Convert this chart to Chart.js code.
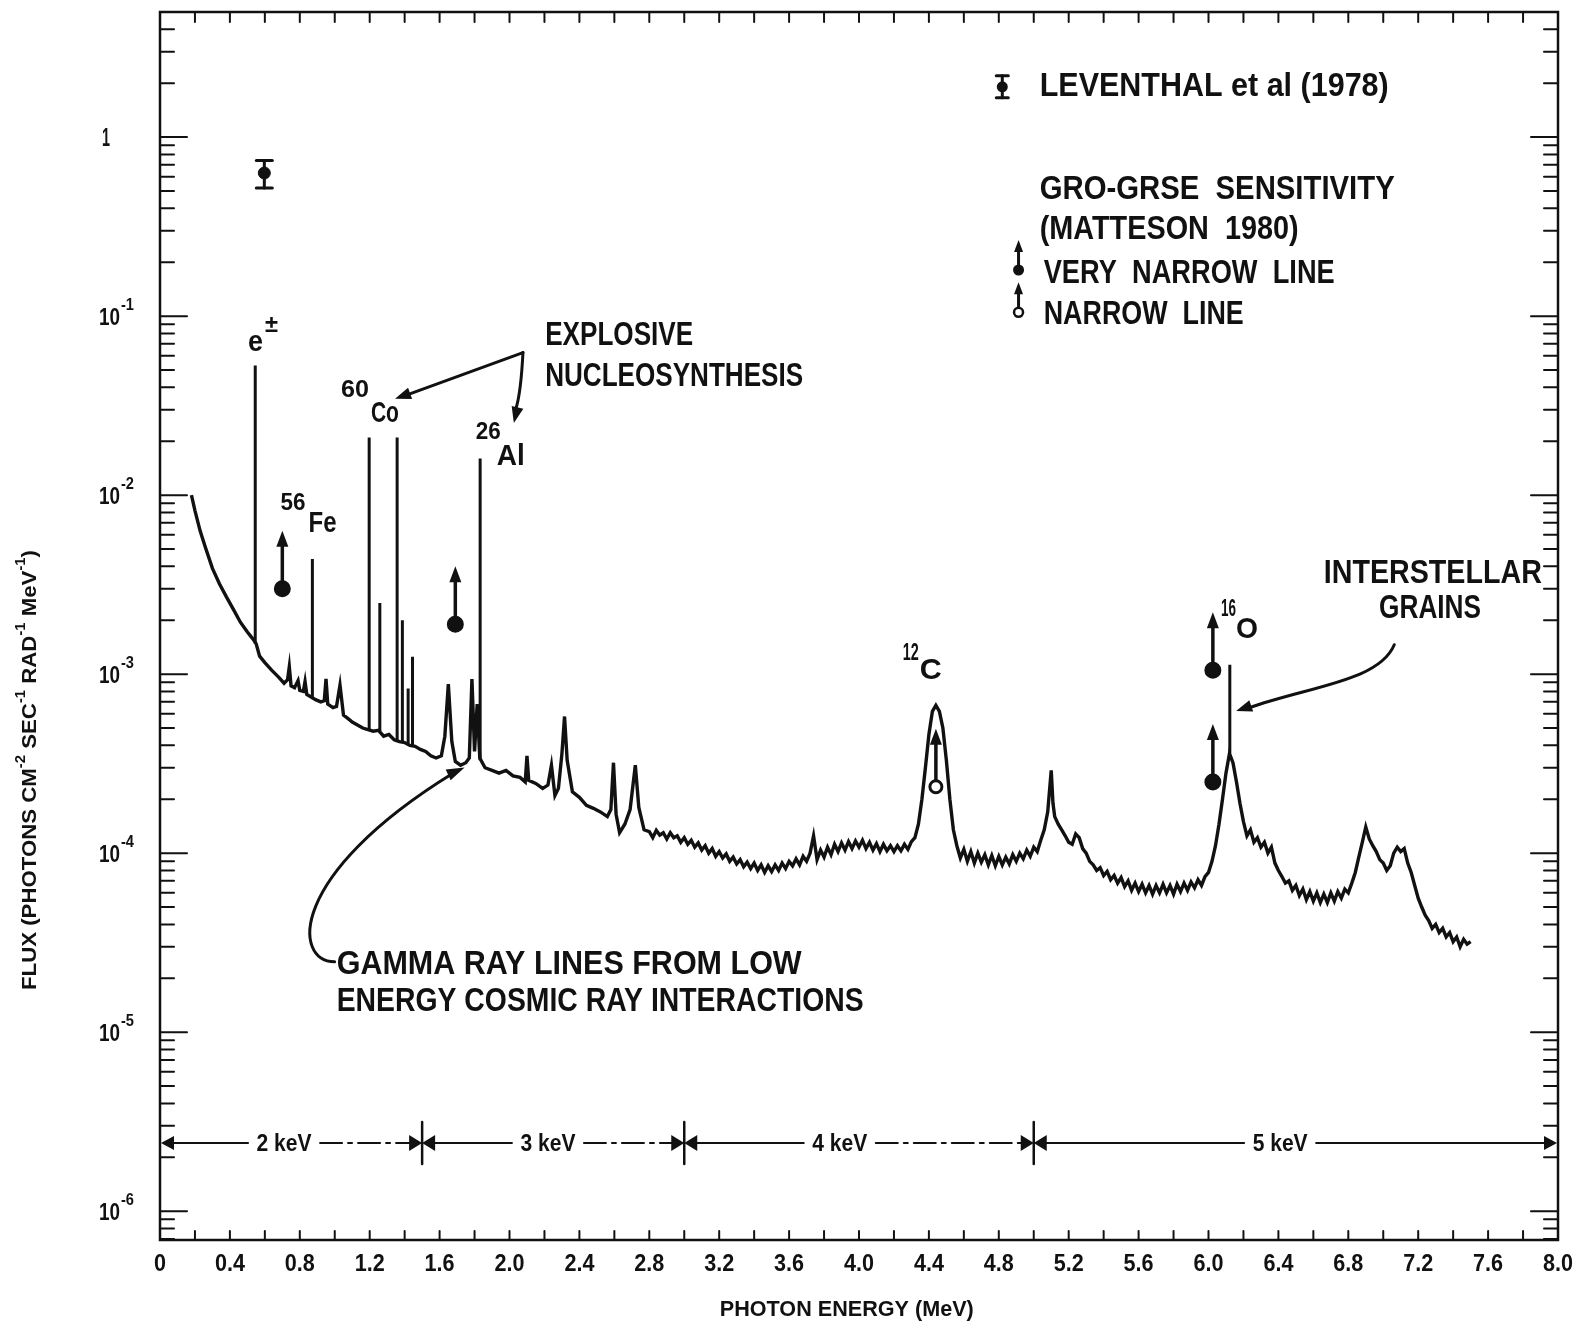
<!DOCTYPE html>
<html>
<head>
<meta charset="utf-8">
<title>Gamma ray line spectrum</title>
<script src="https://cdn.jsdelivr.net/npm/chart.js@4.4.0/dist/chart.umd.min.js"></script>
<style>
html, body { margin: 0; padding: 0; background: #fff; }
#wrap { width: 1578px; height: 1325px; }
</style>
</head>
<body>
<div id="wrap"><canvas id="spectrum" width="1578" height="1325"></canvas></div>
<script>
// continuum spectrum (MeV, photons cm-2 s-1 rad-1 MeV-1)
const energy = [
    0.18, 0.20, 0.23, 0.26, 0.30, 0.34, 0.38, 0.42, 0.46, 0.50, 0.53, 0.55, 0.57, 0.60, 0.64, 0.68,
    0.71, 0.73, 0.74, 0.75, 0.77, 0.79, 0.80, 0.82, 0.83, 0.84, 0.86, 0.89, 0.92, 0.94, 0.95, 0.96,
    0.99, 1.01, 1.03, 1.05, 1.08, 1.10, 1.13, 1.16, 1.19, 1.22, 1.25, 1.28, 1.31, 1.34, 1.37, 1.40,
    1.43, 1.46, 1.49, 1.52, 1.55, 1.58, 1.61, 1.63, 1.65, 1.67, 1.69, 1.72, 1.75, 1.77, 1.785, 1.80,
    1.815, 1.83, 1.86, 1.90, 1.94, 1.98, 2.02, 2.06, 2.09, 2.10, 2.11, 2.15, 2.19, 2.22, 2.24, 2.26,
    2.28, 2.30, 2.315, 2.33, 2.36, 2.40, 2.44, 2.48, 2.52, 2.56, 2.58, 2.595, 2.61, 2.63, 2.66, 2.69,
    2.72, 2.74, 2.77, 2.80, 2.82, 2.84, 2.86, 2.88, 2.90, 2.92, 2.94, 2.96, 2.98, 3.00, 3.02, 3.04,
    3.06, 3.08, 3.10, 3.12, 3.14, 3.16, 3.18, 3.20, 3.22, 3.24, 3.26, 3.28, 3.30, 3.32, 3.34, 3.36,
    3.38, 3.40, 3.42, 3.44, 3.46, 3.48, 3.50, 3.52, 3.54, 3.56, 3.58, 3.60, 3.62, 3.64, 3.66, 3.68,
    3.70, 3.72, 3.74, 3.76, 3.78, 3.80, 3.82, 3.84, 3.86, 3.88, 3.90, 3.92, 3.94, 3.96, 3.98, 4.00,
    4.02, 4.04, 4.06, 4.08, 4.10, 4.12, 4.14, 4.16, 4.18, 4.20, 4.22, 4.24, 4.26, 4.28, 4.30, 4.32,
    4.34, 4.36, 4.38, 4.40, 4.42, 4.44, 4.46, 4.48, 4.50, 4.52, 4.54, 4.56, 4.58, 4.60, 4.62, 4.64,
    4.66, 4.68, 4.70, 4.72, 4.74, 4.76, 4.78, 4.80, 4.82, 4.84, 4.86, 4.88, 4.90, 4.92, 4.94, 4.96,
    4.98, 5.00, 5.02, 5.04, 5.06, 5.08, 5.10, 5.11, 5.12, 5.14, 5.16, 5.18, 5.20, 5.22, 5.24, 5.26,
    5.28, 5.30, 5.32, 5.34, 5.36, 5.38, 5.40, 5.42, 5.44, 5.46, 5.48, 5.50, 5.52, 5.54, 5.56, 5.58,
    5.60, 5.62, 5.64, 5.66, 5.68, 5.70, 5.72, 5.74, 5.76, 5.78, 5.80, 5.82, 5.84, 5.86, 5.88, 5.90,
    5.92, 5.94, 5.96, 5.98, 6.00, 6.02, 6.04, 6.06, 6.08, 6.10, 6.12, 6.14, 6.16, 6.18, 6.20, 6.22,
    6.24, 6.26, 6.28, 6.30, 6.32, 6.34, 6.36, 6.38, 6.40, 6.42, 6.44, 6.46, 6.48, 6.50, 6.52, 6.54,
    6.56, 6.58, 6.60, 6.62, 6.64, 6.66, 6.68, 6.70, 6.72, 6.74, 6.76, 6.78, 6.80, 6.82, 6.84, 6.86,
    6.88, 6.90, 6.92, 6.94, 6.96, 6.98, 7.00, 7.02, 7.04, 7.06, 7.08, 7.10, 7.12, 7.14, 7.16, 7.18,
    7.20, 7.22, 7.24, 7.26, 7.28, 7.30, 7.32, 7.34, 7.36, 7.38, 7.40, 7.42, 7.44, 7.46, 7.48, 7.50
];
const flux = [
    1.0e-2, 8.2e-3, 6.3e-3, 5.1e-3, 3.9e-3, 3.2e-3, 2.7e-3, 2.3e-3, 1.95e-3, 1.72e-3, 1.58e-3, 1.48e-3, 1.26e-3, 1.16e-3, 1.05e-3, 9.6e-4,
    8.9e-4, 9.3e-4, 1.1e-3, 8.6e-4, 8.4e-4, 9.2e-4, 8.1e-4, 8.0e-4, 9.1e-4, 7.7e-4, 7.5e-4, 7.2e-4, 7.0e-4, 7.1e-4, 9.4e-4, 6.8e-4,
    6.5e-4, 6.6e-4, 8.7e-4, 5.9e-4, 5.6e-4, 5.4e-4, 5.2e-4, 5.0e-4, 4.9e-4, 4.8e-4, 4.85e-4, 4.5e-4, 4.6e-4, 4.3e-4, 4.2e-4, 4.15e-4,
    4.0e-4, 3.95e-4, 3.8e-4, 3.7e-4, 3.5e-4, 3.4e-4, 3.5e-4, 4.5e-4, 8.8e-4, 4.2e-4, 3.25e-4, 3.1e-4, 3.2e-4, 3.4e-4, 9.4e-4, 3.7e-4,
    6.8e-4, 3.4e-4, 3.0e-4, 2.9e-4, 2.8e-4, 2.9e-4, 2.7e-4, 2.65e-4, 2.5e-4, 3.5e-4, 2.55e-4, 2.45e-4, 2.3e-4, 2.4e-4, 3.1e-4, 2.1e-4,
    2.3e-4, 3.6e-4, 5.8e-4, 3.3e-4, 2.2e-4, 2.05e-4, 1.85e-4, 1.78e-4, 1.7e-4, 1.6e-4, 1.75e-4, 3.2e-4, 1.65e-4, 1.3e-4, 1.45e-4, 1.75e-4,
    3.1e-4, 1.8e-4, 1.35e-4, 1.32e-4, 1.22e-4, 1.34e-4, 1.26e-4, 1.3e-4, 1.2e-4, 1.3e-4, 1.22e-4, 1.25e-4, 1.15e-4, 1.22e-4, 1.12e-4, 1.18e-4,
    1.08e-4, 1.14e-4, 1.04e-4, 1.1e-4, 1.0e-4, 1.06e-4, 9.6e-5, 1.02e-4, 9.4e-5, 9.9e-5, 9.0e-5, 9.5e-5, 8.7e-5, 9.2e-5, 8.4e-5, 8.9e-5,
    8.2e-5, 8.8e-5, 8.0e-5, 8.6e-5, 7.8e-5, 8.5e-5, 7.9e-5, 8.6e-5, 8.0e-5, 8.8e-5, 8.2e-5, 9.0e-5, 8.5e-5, 9.3e-5, 8.6e-5, 9.6e-5,
    9.0e-5, 1.0e-4, 1.25e-4, 9.2e-5, 1.04e-4, 9.5e-5, 1.08e-4, 9.8e-5, 1.12e-4, 1.02e-4, 1.14e-4, 1.04e-4, 1.16e-4, 1.06e-4, 1.17e-4, 1.08e-4,
    1.18e-4, 1.06e-4, 1.15e-4, 1.04e-4, 1.13e-4, 1.02e-4, 1.12e-4, 1.03e-4, 1.1e-4, 1.02e-4, 1.1e-4, 1.03e-4, 1.12e-4, 1.05e-4, 1.16e-4, 1.22e-4,
    1.45e-4, 2.0e-4, 3.0e-4, 4.6e-4, 6.2e-4, 6.7e-4, 6.2e-4, 5.0e-4, 3.3e-4, 2.0e-4, 1.35e-4, 1.1e-4, 9.4e-5, 1.05e-4, 9.0e-5, 1.02e-4,
    8.8e-5, 1.0e-4, 8.9e-5, 9.8e-5, 8.6e-5, 9.7e-5, 8.5e-5, 9.6e-5, 8.6e-5, 9.5e-5, 8.7e-5, 9.8e-5, 9.0e-5, 1.0e-4, 9.3e-5, 1.04e-4,
    9.6e-5, 1.08e-4, 1.02e-4, 1.18e-4, 1.35e-4, 1.7e-4, 2.9e-4, 1.9e-4, 1.6e-4, 1.45e-4, 1.35e-4, 1.25e-4, 1.15e-4, 1.12e-4, 1.28e-4, 1.22e-4,
    1.06e-4, 1.0e-4, 9.0e-5, 8.6e-5, 8.0e-5, 8.3e-5, 7.5e-5, 7.9e-5, 7.1e-5, 7.5e-5, 6.8e-5, 7.3e-5, 6.5e-5, 7.0e-5, 6.2e-5, 6.8e-5,
    6.1e-5, 6.7e-5, 6.0e-5, 6.6e-5, 5.9e-5, 6.6e-5, 6.0e-5, 6.7e-5, 6.0e-5, 6.6e-5, 5.9e-5, 6.7e-5, 6.1e-5, 6.8e-5, 6.2e-5, 6.9e-5,
    6.4e-5, 7.1e-5, 6.6e-5, 7.4e-5, 7.8e-5, 9.0e-5, 1.1e-4, 1.45e-4, 2.0e-4, 2.8e-4, 3.6e-4, 3.2e-4, 2.5e-4, 1.9e-4, 1.5e-4, 1.25e-4,
    1.35e-4, 1.15e-4, 1.22e-4, 1.08e-4, 1.15e-4, 1.0e-4, 1.08e-4, 8.8e-5, 8.0e-5, 7.4e-5, 6.8e-5, 7.0e-5, 6.2e-5, 6.6e-5, 5.8e-5, 6.3e-5,
    5.5e-5, 6.1e-5, 5.4e-5, 6.0e-5, 5.3e-5, 5.9e-5, 5.3e-5, 6.0e-5, 5.4e-5, 6.1e-5, 5.6e-5, 6.3e-5, 6.0e-5, 6.8e-5, 7.8e-5, 9.5e-5,
    1.15e-4, 1.4e-4, 1.2e-4, 1.1e-4, 1.02e-4, 9.2e-5, 8.8e-5, 8.0e-5, 8.5e-5, 1.0e-4, 1.08e-4, 1.02e-4, 1.06e-4, 8.8e-5, 7.8e-5, 6.6e-5,
    5.6e-5, 5.0e-5, 4.5e-5, 4.2e-5, 3.8e-5, 4.0e-5, 3.6e-5, 3.8e-5, 3.4e-5, 3.6e-5, 3.2e-5, 3.4e-5, 3.0e-5, 3.3e-5, 3.1e-5, 3.2e-5
];

// narrow lines drawn as spikes above the continuum
const lineEnergy = [0.545, 0.872, 1.197, 1.258, 1.357, 1.387, 1.42, 1.445, 1.832, 6.122];
const lineBase = [1.48e-3, 7.4e-4, 4.9e-4, 4.8e-4, 4.25e-4, 4.15e-4, 4.0e-4, 3.95e-4, 3.3e-4, 3.6e-4];
const lineTop = [5.3e-2, 4.4e-3, 2.1e-2, 2.5e-3, 2.1e-2, 2.0e-3, 8.3e-4, 1.25e-3, 1.6e-2, 1.13e-3];

// GRO-GRSE sensitivity (Matteson 1980)
const sensEnergy = [0.70, 1.69, 4.44, 6.025, 6.025];
const sensFlux = [3.0e-3, 1.9e-3, 2.35e-4, 1.05e-3, 2.5e-4];
const sensFilled = [true, true, false, true, true];

// Leventhal et al (1978)
const levEnergy = [0.597];
const levFlux = [0.63];
const levLow = [0.52];
const levHigh = [0.74];

// detector resolution bands
const resEdges = [0, 1.5, 3.0, 5.0, 8.0];
const resLabels = ["2 keV", "3 keV", "4 keV", "5 keV"];
const resLabelAt = [0.71, 2.22, 3.89, 6.41];
const resFlux = 2.4e-6;

const FONT = "'Liberation Sans Narrow', 'Liberation Sans', 'DejaVu Sans', sans-serif";
const INK = "#111";

// draws text squeezed/stretched to a given width
function fitText(c, s, x, y, size, w, align) {
    c.font = "bold " + size + "px " + FONT;
    const nat = c.measureText(s).width;
    c.save();
    c.translate(x, y);
    c.scale(w / nat, 1);
    c.textBaseline = "middle";
    c.textAlign = "left";
    let ox = 0;
    if (align == "center") ox = -nat / 2;
    else if (align == "right") ox = -nat;
    c.fillText(s, ox, 0);
    c.restore();
}

function seg(c, x1, y1, x2, y2) {
    c.beginPath();
    c.moveTo(x1, y1);
    c.lineTo(x2, y2);
    c.stroke();
}

function head(c, x1, y1, x2, y2, len, half) {
    const a = Math.atan2(y2 - y1, x2 - x1);
    const bx = x2 - len * Math.cos(a), by = y2 - len * Math.sin(a);
    c.beginPath();
    c.moveTo(x2, y2);
    c.lineTo(bx + half * Math.sin(a), by - half * Math.cos(a));
    c.lineTo(bx - half * Math.sin(a), by + half * Math.cos(a));
    c.closePath();
    c.fill();
}

// arrow pointing up from a marker circle
function upArrow(c, x, y, r, len) {
    c.lineWidth = 3.5;
    seg(c, x, y - r, x, y - len + 10);
    head(c, x, y, x, y - len, 16, 6);
}

const decor = {
    id: "decor",
    afterDraw(chart) {
        const c = chart.ctx, xs = chart.scales.x, ys = chart.scales.y, a = chart.chartArea;
        const P = (e, f) => [xs.getPixelForValue(e), ys.getPixelForValue(f)];
        c.save();
        c.strokeStyle = INK;
        c.fillStyle = INK;
        c.lineCap = "round";

        // frame and inward ticks
        c.lineWidth = 2.5;
        c.strokeRect(a.left, a.top, a.right - a.left, a.bottom - a.top);
        c.lineWidth = 2;
        for (let i = 0; i <= 40; i++) {
            const px = xs.getPixelForValue(i * 0.2);
            seg(c, px, a.top, px, a.top + 10);
            seg(c, px, a.bottom, px, a.bottom - 9);
        }
        for (let d = -7; d <= 0; d++) {
            for (let m = 1; m <= 9; m++) {
                const v = m * Math.pow(10, d);
                if (v < ys.min || v >= ys.max) continue;
                const py = ys.getPixelForValue(v);
                const L = m == 1 ? 27 : 14;
                seg(c, a.left, py, a.left + L, py);
                seg(c, a.right, py, a.right - L, py);
            }
        }

        // tick labels
        xs.ticks.forEach((t) => {
            const s = t.value == 0 ? "0" : t.value.toFixed(1);
            fitText(c, s, xs.getPixelForValue(t.value), a.bottom + 24, 24, s.length == 1 ? 12 : 30, "center");
        });
        for (let d = -6; d <= 0; d++) {
            const py = ys.getPixelForValue(Math.pow(10, d));
            if (d == 0) {
                fitText(c, "1", 106, py + 2, 26, 8, "center");
            } else {
                fitText(c, "10", 99, py + 2, 24, 21, "left");
                fitText(c, "-" + -d, 121, py - 11, 17, 13, "left");
            }
        }

        // axis titles
        fitText(c, "PHOTON ENERGY (MeV)", xs.getPixelForValue(3.93), a.bottom + 70, 22, 254, "center");
        c.save();
        c.translate(30, 770);
        c.rotate(-Math.PI / 2);
        const parts = [["FLUX (PHOTONS CM", 0], ["-2", 1], [" SEC", 0], ["-1", 1], [" RAD", 0], ["-1", 1], [" MeV", 0], ["-1", 1], [")", 0]];
        let total = 0;
        parts.forEach((p) => {
            c.font = "bold " + (p[1] ? 14 : 21) + "px " + FONT;
            total += c.measureText(p[0]).width;
        });
        c.scale(440 / total, 1);
        c.textBaseline = "middle";
        let cx = -total / 2;
        parts.forEach((p) => {
            c.font = "bold " + (p[1] ? 14 : 21) + "px " + FONT;
            c.fillText(p[0], cx, p[1] ? -9 : 0);
            cx += c.measureText(p[0]).width;
        });
        c.restore();

        // Leventhal error bar
        const lev = chart.getDatasetMeta(3).data;
        c.lineWidth = 3;
        lev.forEach((pt, i) => {
            const yl = ys.getPixelForValue(levLow[i]), yh = ys.getPixelForValue(levHigh[i]);
            seg(c, pt.x, yl, pt.x, yh);
            seg(c, pt.x - 8, yl, pt.x + 8, yl);
            seg(c, pt.x - 8, yh, pt.x + 8, yh);
        });

        // sensitivity arrows
        chart.getDatasetMeta(2).data.forEach((pt) => upArrow(c, pt.x, pt.y, 7, 58));

        // isotope labels
        const iso = (sup, main, e, f, dx, dy, ws, wm) => {
            const [x, y] = P(e, f);
            fitText(c, main, x, y, 30, wm, "left");
            fitText(c, sup, x + dx, y + dy, 23, ws, "left");
        };
        iso("\u00b1", "e", 0.504, 0.0712, 17, -17, 13, 15);
        iso("56", "Fe", 0.850, 6.9e-3, -28, -20, 25, 28);
        iso("60", "Co", 1.207, 0.0284, -30, -23, 28, 28);
        iso("26", "Al", 1.927, 0.0163, -21, -24, 25, 28);
        iso("12", "C", 4.348, 1.045e-3, -17, -17, 16, 22);
        iso("16", "O", 6.158, 1.78e-3, -15, -20, 15, 22);

        // text blocks
        const note = (s, e, f, w, size) => {
            const [x, y] = P(e, f);
            fitText(c, s, x, y, size || 34, w, "left");
        };
        note("EXPLOSIVE", 2.204, 0.078, 148);
        note("NUCLEOSYNTHESIS", 2.204, 0.0458, 258);
        note("INTERSTELLAR", 6.66, 3.62e-3, 218);
        note("GRAINS", 6.976, 2.33e-3, 102);
        note("GAMMA RAY LINES FROM LOW", 1.011, 2.38e-5, 465);
        note("ENERGY COSMIC RAY INTERACTIONS", 1.011, 1.475e-5, 527);
        note("LEVENTHAL et al (1978)", 5.034, 1.91, 349);
        note("GRO-GRSE  SENSITIVITY", 5.034, 0.51, 355);
        note("(MATTESON  1980)", 5.034, 0.304, 259);
        note("VERY  NARROW  LINE", 5.057, 0.172, 291);
        note("NARROW  LINE", 5.057, 0.1023, 200);

        // pointer arrows
        c.lineWidth = 3;
        let [sx, sy] = P(2.077, 0.0626);
        let [ex, ey] = P(1.345, 0.0345);
        seg(c, sx, sy, ex + 12, ey - 4);
        head(c, sx, sy, ex, ey, 16, 6);
        [ex, ey] = P(2.025, 0.0253);
        c.beginPath();
        c.moveTo(sx, sy);
        c.quadraticCurveTo(sx - 2, sy + 40, ex + 2, ey - 14);
        c.stroke();
        head(c, sx - 2, sy + 40, ex, ey, 16, 6);

        const g0 = P(7.063, 1.46e-3), g1 = P(6.976, 9.1e-4), g2 = P(6.573, 8.55e-4), g3 = P(6.158, 6.22e-4);
        c.beginPath();
        c.moveTo(g0[0], g0[1]);
        c.bezierCurveTo(g1[0], g1[1], g2[0], g2[1], g3[0] + 12, g3[1] - 3);
        c.stroke();
        head(c, g2[0], g2[1], g3[0], g3[1], 16, 6);

        const k0 = P(0.9994, 2.476e-5), k1 = P(0.7631, 2.476e-5), k2 = P(0.7228, 7.44e-5), k3 = P(1.743, 3.01e-4);
        c.beginPath();
        c.moveTo(k0[0], k0[1]);
        c.bezierCurveTo(k1[0], k1[1], k2[0], k2[1], k3[0] - 12, k3[1] + 6);
        c.stroke();
        head(c, k3[0] - 40, k3[1] + 18, k3[0], k3[1], 18, 6);

        // legend markers
        let [lx, ly] = P(4.82, 1.91);
        c.lineWidth = 3;
        seg(c, lx, ly - 11, lx, ly + 11);
        seg(c, lx - 6, ly - 11, lx + 6, ly - 11);
        seg(c, lx - 6, ly + 11, lx + 6, ly + 11);
        c.beginPath();
        c.arc(lx, ly, 5.5, 0, Math.PI * 2);
        c.fill();
        [lx, ly] = P(4.913, 0.181);
        c.lineWidth = 3;
        seg(c, lx, ly, lx, ly - 22);
        head(c, lx, ly, lx, ly - 30, 12, 4.5);
        c.beginPath();
        c.arc(lx, ly, 5.5, 0, Math.PI * 2);
        c.fill();
        [lx, ly] = P(4.913, 0.105);
        seg(c, lx, ly - 5, lx, ly - 22);
        head(c, lx, ly, lx, ly - 30, 12, 4.5);
        c.beginPath();
        c.arc(lx, ly, 4.5, 0, Math.PI * 2);
        c.fillStyle = "#fff";
        c.fill();
        c.lineWidth = 2.5;
        c.stroke();
        c.fillStyle = INK;

        // resolution bar
        const ry = ys.getPixelForValue(resFlux);
        c.lineWidth = 2;
        for (let i = 0; i < resLabels.length; i++) {
            const x0 = xs.getPixelForValue(resEdges[i]), x1 = xs.getPixelForValue(resEdges[i + 1]);
            const lc = xs.getPixelForValue(resLabelAt[i]);
            fitText(c, resLabels[i], lc, ry + 1, 24, 55, "center");
            c.setLineDash([]);
            seg(c, x0 + 4, ry, lc - 36, ry);
            c.setLineDash(i < 3 ? [22, 6, 4, 6] : []);
            seg(c, lc + 36, ry, x1 - 4, ry);
        }
        c.setLineDash([]);
        resEdges.forEach((e, i) => {
            const x = xs.getPixelForValue(e);
            if (i == 0) {
                head(c, x + 14, ry, x + 1, ry, 13, 7);
            } else if (i == resEdges.length - 1) {
                head(c, x - 14, ry, x - 1, ry, 13, 7);
            } else {
                c.lineWidth = 2.5;
                seg(c, x, ry - 21, x, ry + 21);
                head(c, x - 14, ry, x, ry, 13, 8);
                head(c, x + 14, ry, x, ry, 13, 8);
            }
        });

        c.restore();
    },
};

const spectrumData = energy.map((e, i) => ({ x: e, y: flux[i] }));
const spikeData = [];
lineEnergy.forEach((e, i) => {
    spikeData.push({ x: e, y: lineBase[i] }, { x: e, y: lineTop[i] }, { x: e, y: null });
});

const ctx = document.getElementById("spectrum");
const chart = new Chart(ctx, {
    type: "line",
    data: {
        datasets: [
            {
                label: "spectrum",
                data: spectrumData,
                borderColor: INK,
                borderWidth: 3.4,
                borderJoinStyle: "miter",
                pointRadius: 0,
                tension: 0,
            },
            {
                label: "narrow lines",
                data: spikeData,
                borderColor: INK,
                borderWidth: 3,
                pointRadius: 0,
                spanGaps: false,
            },
            {
                label: "GRO-GRSE sensitivity",
                data: sensEnergy.map((e, i) => ({ x: e, y: sensFlux[i] })),
                showLine: false,
                pointRadius: sensFilled.map((f) => (f ? 7 : 6)),
                pointBackgroundColor: sensFilled.map((f) => (f ? INK : "#fff")),
                pointBorderColor: INK,
                pointBorderWidth: 3,
            },
            {
                label: "Leventhal et al (1978)",
                data: levEnergy.map((e, i) => ({ x: e, y: levFlux[i] })),
                showLine: false,
                pointRadius: 6,
                pointBackgroundColor: INK,
                pointBorderColor: INK,
            },
        ],
    },
    options: {
        responsive: false,
        animation: false,
        devicePixelRatio: 1,
        layout: { padding: { top: 12, right: 20, left: 0, bottom: 0 } },
        plugins: {
            legend: { display: false },
            tooltip: { enabled: false },
        },
        scales: {
            x: {
                type: "linear",
                min: 0,
                max: 8,
                grid: { display: false },
                border: { display: false },
                ticks: { display: false, stepSize: 0.4 },
                afterFit: (s) => {
                    s.height = 85;
                },
            },
            y: {
                type: "logarithmic",
                min: 6.9e-7,
                max: 5,
                grid: { display: false },
                border: { display: false },
                ticks: { display: false },
                afterFit: (s) => {
                    s.width = 160;
                },
            },
        },
    },
    plugins: [decor],
});
</script>
</body>
</html>
